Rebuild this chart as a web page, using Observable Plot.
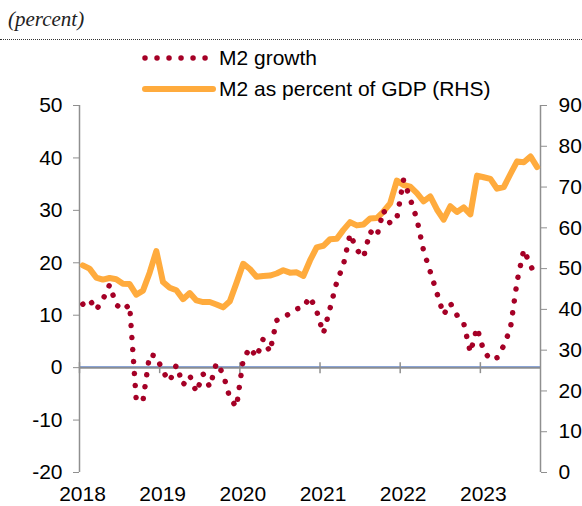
<!DOCTYPE html>
<html><head><meta charset="utf-8">
<script src="https://cdn.jsdelivr.net/npm/d3@7"></script>
<script src="https://cdn.jsdelivr.net/npm/@observablehq/plot@0.6"></script>
<style>
body{margin:0;background:#fff;}
#wrap{position:relative;width:582px;height:506px;font-family:Arial,"Liberation Sans",sans-serif;overflow:hidden;}
#chart{position:absolute;left:0;top:0;}
#title{position:absolute;left:8px;top:6px;font-family:"Liberation Serif","Times New Roman",serif;font-style:italic;font-size:21px;color:#222;line-height:26px;}
#rule{position:absolute;left:0;top:39px;width:582px;border-top:1px dotted #333;}
.leg{position:absolute;left:139px;height:24px;display:flex;align-items:center;font-size:21px;color:#000;white-space:nowrap;}
</style></head><body>
<div id="wrap">
  <div id="chart"></div>
  <div id="title">(percent)</div>
  <div id="rule"></div>
</div>
<script>
// ---- data (monthly, Jan 2018 – Sep 2023) ----
const yearLabels = ["2018", "2019", "2020", "2021", "2022", "2023"];
const seriesNames = ["M2 growth", "M2 as percent of GDP (RHS)"];
const seriesColors = ["#a50026", "#ffab3d"];
const leftTicks = [-20, -10, 0, 10, 20, 30, 40, 50];
const rightTicks = [0, 10, 20, 30, 40, 50, 60, 70, 80, 90];

// M2 growth (percent, left axis)
const m2Growth = [
  12.1, 13.0, 11.0, 13.0, 15.8, 12.0, 11.0, 12.0, -6.3, -6.3, 2.5, 2.2,
  -0.8, -2.6, 0.5, -3.3, -1.5, -4.7, -1.2, -3.7, 0.9, -1.2, -5.8, -7.5,
  1.5, 3.8, 2.0, 5.5, 3.0, 9.0, 9.5, 10.4, 11.2, 11.5, 13.5, 10.8,
  6.5, 11.3, 16.3, 19.6, 25.5, 22.5, 21.0, 26.0, 25.0, 30.0, 27.5, 28.5,
  35.8, 32.2, 28.3, 22.3, 18.3, 14.2, 10.1, 12.3, 10.0, 8.5, 2.9, 7.6,
  3.2, 1.5, 1.9, 4.2, 7.5, 16.5, 22.5, 19.5, 17.0
];
// M2 as percent of GDP (percent, right axis)
const m2ToGdp = [
  50.8, 50.0, 47.8, 47.3, 47.7, 47.4, 46.3, 46.2, 43.6, 44.6, 49.0, 54.3,
  46.7, 45.3, 44.7, 42.5, 44.0, 42.2, 41.8, 41.8, 41.2, 40.5, 42.0, 46.5,
  51.2, 49.9, 48.0, 48.2, 48.3, 48.8, 49.6, 49.0, 49.1, 48.2, 52.0, 55.2,
  55.6, 57.2, 57.3, 59.5, 61.4, 60.6, 60.8, 62.3, 62.4, 64.0, 66.0, 71.6,
  70.5, 70.1, 68.5, 66.5, 67.7, 64.5, 62.0, 65.3, 63.9, 65.0, 63.3, 72.8,
  72.4, 72.0, 69.6, 70.0, 73.2, 76.3, 76.1, 77.5, 74.9
];

// ---- scales ----
const leftDomain = [-20, 50];
const rightDomain = [0, 90];
const toLeft = r => leftDomain[0] + (r - rightDomain[0]) * (leftDomain[1] - leftDomain[0]) / (rightDomain[1] - rightDomain[0]);
const fromLeft = l => rightDomain[0] + (l - leftDomain[0]) * (rightDomain[1] - rightDomain[0]) / (leftDomain[1] - leftDomain[0]);
const nMonths = m2ToGdp.length;
const growthData = m2Growth.map((v, i) => ({x: i + 0.5, y: v}));
const gdpData = m2ToGdp.map((v, i) => ({x: i + 0.5, y: toLeft(v)}));
const yearPos = yearLabels.map((_, i) => i * 12);
const axisGrey = "#8f8f8f";

const chart = Plot.plot({
  width: 582,
  height: 506,
  marginTop: 105,
  marginBottom: 34,
  marginLeft: 79,
  marginRight: 42,
  x: {domain: [0, nMonths], label: null},
  y: {domain: leftDomain, label: null},
  style: {fontFamily: "Arial, 'Liberation Sans', sans-serif", fontSize: "21px", background: "transparent", color: "#000"},
  marks: [
    Plot.ruleY([0], {stroke: axisGrey, strokeWidth: 2}),
    Plot.ruleY([0], {stroke: "#5b82cc", strokeWidth: 1, dy: -1, strokeOpacity: 0.75}),
    Plot.ruleX(yearPos, {x: d => d, y1: 0, y2: 0, insetTop: -5, insetBottom: -6, stroke: axisGrey, strokeWidth: 1.5}),
    Plot.ruleX([0], {y1: leftDomain[0], y2: leftDomain[1], stroke: axisGrey, strokeWidth: 1.5}),
    Plot.ruleX([nMonths], {y1: leftDomain[0], y2: leftDomain[1], stroke: axisGrey, strokeWidth: 1.5}),
    Plot.axisY(leftTicks, {anchor: "left", label: null, tickSize: 6, tickPadding: 11, stroke: axisGrey, fill: "#000", tickFormat: d => String(d)}),
    Plot.axisY(rightTicks.map(toLeft), {anchor: "right", label: null, tickSize: 6, tickPadding: 12, stroke: axisGrey, fill: "#000", tickFormat: d => String(Math.round(fromLeft(d)))}),
    Plot.axisX(yearPos, {anchor: "bottom", label: null, tickSize: 0, tickPadding: 14, dx: 3, fill: "#000", tickFormat: d => yearLabels[d / 12]}),
    Plot.line(gdpData, {x: "x", y: "y", stroke: seriesColors[1], strokeWidth: 6, strokeLinejoin: "round", strokeLinecap: "round"}),
    Plot.line(growthData, {x: "x", y: "y", stroke: seriesColors[0], strokeWidth: 5.5, strokeDasharray: "0.01 12", strokeLinecap: "round", strokeLinejoin: "round"})
  ]
});
document.getElementById("chart").appendChild(chart);

// ---- legend ----
const wrap = document.getElementById("wrap");
const legCenters = [58, 89];
seriesNames.forEach((name, i) => {
  const row = document.createElement("div");
  row.className = "leg";
  row.style.top = (legCenters[i] - 12) + "px";
  const sw = i === 0
    ? `<svg width="80" height="24"><line x1="6" y1="12" x2="68" y2="12" stroke="${seriesColors[0]}" stroke-width="5.5" stroke-linecap="round" stroke-dasharray="0.01 12"/></svg>`
    : `<svg width="80" height="24"><line x1="6" y1="12" x2="74" y2="12" stroke="${seriesColors[1]}" stroke-width="6" stroke-linecap="round"/></svg>`;
  row.innerHTML = sw + `<span>${name}</span>`;
  wrap.appendChild(row);
});
</script>
</body></html>
